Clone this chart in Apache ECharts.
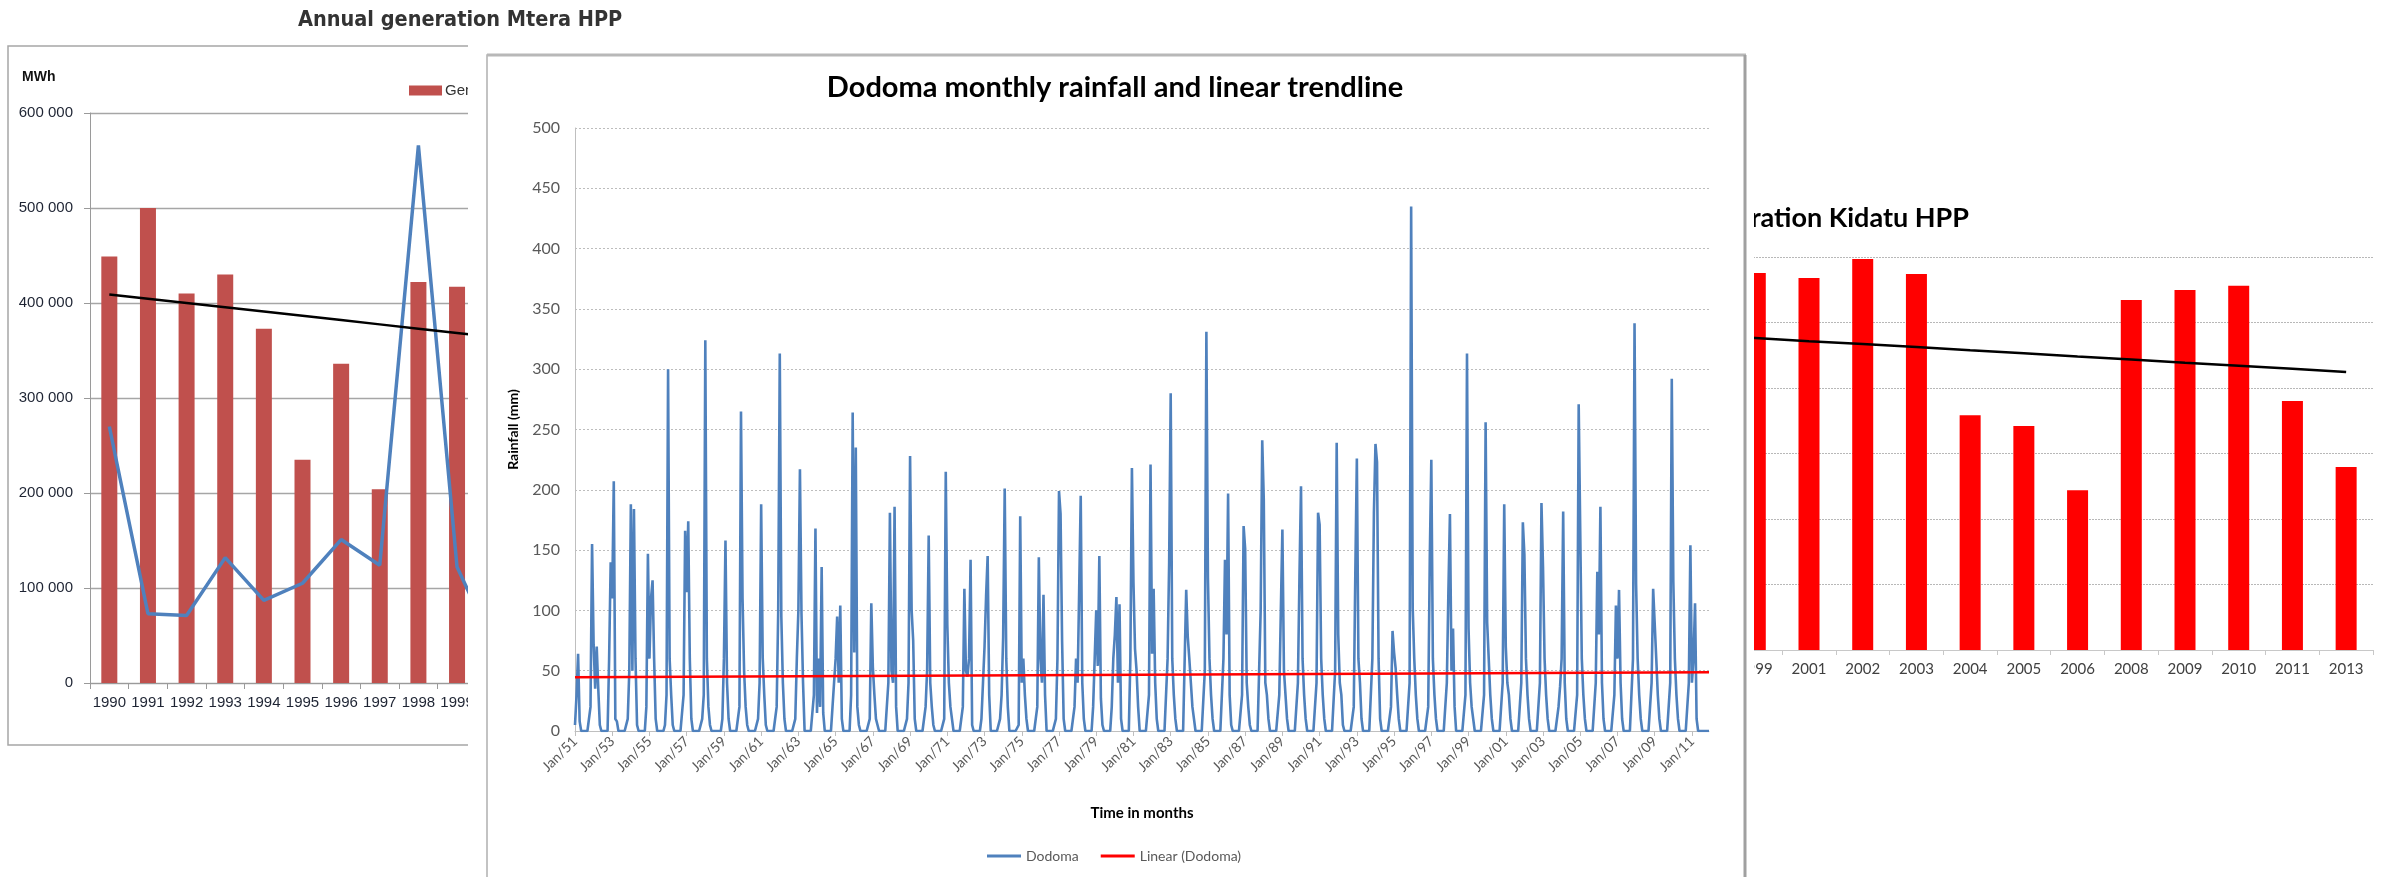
<!DOCTYPE html>
<html>
<head>
<meta charset="utf-8">
<script src="https://cdn.jsdelivr.net/npm/echarts@6/dist/echarts.min.js"></script>
<style>html,body{margin:0;padding:0;background:#fff}#c{width:2386px;height:877px}</style>
</head>
<body>
<div id="c"></div>
<script>
// ---------- Chart 1: Annual generation Mtera HPP ----------
const mteraYears = ['1990','1991','1992','1993','1994','1995','1996','1997','1998','1999','2000'];
const mteraGeneration = [449000, 500000, 410000, 430000, 373000, 235000, 336000, 204000, 422000, 417000, null];
const mteraBlueSeries = [270000, 73000, 71000, 132000, 87000, 105000, 151000, 124000, 566000, 122000, 35000];
const mteraTrend = [409000, 404500, 400000, 395500, 391000, 386500, 382000, 377500, 373000, 368500, 364000];

// ---------- Chart 2: Dodoma monthly rainfall ----------
const monthNames = ['Jan','Feb','Mar','Apr','May','Jun','Jul','Aug','Sep','Oct','Nov','Dec'];
const firstYear = 1951;
const rain1951to1960 = [
  [5, 30, 64, 8, 0, 0, 0, 0, 0, 0, 20, 155],
  [72, 35, 70, 35, 5, 0, 0, 0, 0, 0, 60, 140],
  [110, 207, 10, 8, 0, 0, 0, 0, 0, 0, 10, 50],
  [188, 50, 184, 60, 5, 0, 0, 0, 0, 0, 20, 147],
  [60, 110, 125, 60, 10, 0, 0, 0, 0, 0, 5, 30],
  [300, 60, 30, 5, 0, 0, 0, 0, 0, 0, 30, 166],
  [115, 174, 60, 10, 0, 0, 0, 0, 0, 0, 10, 30],
  [324, 60, 20, 5, 0, 0, 0, 0, 0, 0, 0, 10],
  [60, 158, 40, 10, 0, 0, 0, 0, 0, 0, 20, 265],
  [110, 50, 20, 5, 0, 0, 0, 0, 0, 0, 10, 40]
];
const rain1961to1970 = [
  [188, 61, 30, 5, 0, 0, 0, 0, 0, 0, 20, 100],
  [313, 95, 40, 10, 0, 0, 0, 0, 0, 0, 10, 60],
  [100, 217, 97, 40, 0, 0, 0, 0, 0, 0, 30, 168],
  [15, 60, 20, 136, 15, 0, 0, 0, 0, 0, 20, 40],
  [60, 95, 40, 104, 10, 0, 0, 0, 0, 0, 30, 264],
  [65, 235, 20, 5, 0, 0, 0, 0, 0, 0, 10, 106],
  [53, 30, 10, 5, 0, 0, 0, 0, 0, 0, 40, 181],
  [50, 40, 186, 20, 0, 0, 0, 0, 0, 0, 10, 40],
  [228, 100, 75, 10, 0, 0, 0, 0, 0, 0, 20, 51],
  [162, 40, 20, 5, 0, 0, 0, 0, 0, 0, 10, 215]
];
const rain1971to1980 = [
  [88, 40, 20, 10, 0, 0, 0, 0, 0, 0, 20, 118],
  [50, 45, 60, 142, 5, 0, 0, 0, 0, 0, 10, 40],
  [70, 112, 145, 30, 0, 0, 0, 0, 0, 0, 10, 30],
  [78, 201, 60, 20, 0, 0, 0, 0, 0, 0, 5, 178],
  [40, 60, 30, 10, 0, 0, 0, 0, 0, 0, 20, 144],
  [60, 40, 113, 30, 0, 0, 0, 0, 0, 0, 10, 60],
  [199, 180, 74, 10, 0, 0, 0, 0, 0, 0, 20, 60],
  [40, 117, 195, 40, 10, 0, 0, 0, 0, 0, 20, 60],
  [100, 54, 145, 27, 5, 0, 0, 0, 0, 0, 20, 60],
  [80, 111, 40, 105, 10, 0, 0, 0, 0, 0, 60, 218]
];
const rain1981to1990 = [
  [123, 68, 50, 20, 0, 0, 0, 0, 0, 0, 30, 221],
  [64, 118, 40, 10, 0, 0, 0, 0, 0, 0, 60, 140],
  [280, 60, 30, 10, 0, 0, 0, 0, 0, 0, 117, 78],
  [60, 40, 20, 10, 0, 0, 0, 0, 0, 0, 50, 331],
  [127, 60, 30, 10, 0, 0, 0, 0, 0, 0, 60, 142],
  [80, 197, 30, 5, 0, 0, 0, 0, 0, 0, 30, 170],
  [151, 40, 20, 5, 0, 0, 0, 0, 0, 0, 100, 241],
  [192, 40, 30, 10, 0, 0, 0, 0, 0, 0, 30, 100],
  [167, 50, 30, 10, 0, 0, 0, 0, 0, 0, 40, 128],
  [203, 60, 30, 10, 0, 0, 0, 0, 0, 0, 40, 181]
];
const rain1991to2000 = [
  [171, 60, 30, 10, 0, 0, 0, 0, 0, 0, 50, 239],
  [80, 40, 30, 5, 0, 0, 0, 0, 0, 0, 20, 130],
  [226, 60, 40, 10, 0, 0, 0, 0, 0, 0, 60, 181],
  [238, 223, 60, 10, 0, 0, 0, 0, 0, 0, 20, 83],
  [65, 52, 30, 10, 0, 0, 0, 0, 0, 0, 40, 435],
  [102, 60, 30, 10, 0, 0, 0, 0, 0, 0, 20, 142],
  [225, 60, 30, 10, 0, 0, 0, 0, 0, 0, 40, 115],
  [180, 50, 85, 20, 0, 0, 0, 0, 0, 0, 30, 313],
  [85, 40, 20, 10, 0, 0, 0, 0, 0, 0, 30, 256],
  [90, 60, 30, 10, 0, 0, 0, 0, 0, 0, 40, 188]
];
const rain2001to2011 = [
  [70, 40, 30, 10, 0, 0, 0, 0, 0, 0, 40, 173],
  [146, 60, 30, 10, 0, 0, 0, 0, 0, 0, 40, 189],
  [136, 60, 30, 10, 0, 0, 0, 0, 0, 0, 20, 37],
  [60, 182, 40, 10, 0, 0, 0, 0, 0, 0, 30, 271],
  [272, 60, 30, 10, 0, 0, 0, 0, 0, 0, 40, 132],
  [80, 186, 40, 10, 0, 0, 0, 0, 0, 0, 30, 104],
  [60, 117, 40, 10, 0, 0, 0, 0, 0, 0, 60, 338],
  [122, 60, 30, 10, 0, 0, 0, 0, 0, 0, 40, 118],
  [117, 60, 30, 10, 0, 0, 0, 0, 0, 0, 40, 292],
  [124, 60, 30, 10, 0, 0, 0, 0, 0, 0, 40, 154],
  [40, 60, 106, 10, 0, 0, 0, 0, 0, 0, 0, 0]
];
const rainTrendEnds = [44.6, 48.8];

// ---------- Chart 3: Annual generation Kidatu HPP ----------
const kidatuYears = ['1997','1998','1999','2001','2002','2003','2004','2005','2006','2008','2009','2010','2011','2013'];
const kidatuGeneration = [null, null, 1151000, 1136000, 1194000, 1148000, 717000, 684000, 488000, 1069000, 1099000, 1112000, 760000, 559000];
const kidatuTrend = [972000, 962000, 953000, 943000, 934000, 925000, 915000, 906000, 896000, 887000, 877000, 868000, 859000, 849000];

// ---------- build ----------
const rainRows = [].concat(rain1951to1960, rain1961to1970, rain1971to1980, rain1981to1990, rain1991to2000, rain2001to2011);
const rainLabels = [];
const rainValues = [];
rainRows.forEach((row, i) => {
  const yy = String((firstYear + i) % 100).padStart(2, '0');
  row.forEach((v, m) => { rainLabels.push(monthNames[m] + '/' + yy); rainValues.push(v); });
});
const lastIdx = rainValues.length - 1;
const rainTrend = rainValues.map(() => null);
rainTrend[0] = rainTrendEnds[0];
rainTrend[lastIdx] = rainTrendEnds[1];

const spaceThousands = v => String(v).replace(/\B(?=(\d{3})+(?!\d))/g, ' ');
const cond = "'DejaVu Sans Condensed','Liberation Sans Narrow',sans-serif";
const cal = "Lato,'Open Sans',sans-serif";

const chart = echarts.init(document.getElementById('c'), null, {renderer: 'canvas'});
chart.setOption({
  animation: false,
  backgroundColor: '#ffffff',
  grid: [
    {left: 90, top: 113, width: 425, height: 570, outerBoundsMode: 'none'},
    {left: 575, top: 128, width: 1134, height: 603, outerBoundsMode: 'none'},
    {left: 1621, top: 257, width: 752, height: 393, outerBoundsMode: 'none'}
  ],
  legend: [
    {
      z: 2, left: 404, top: 78, itemWidth: 33, itemHeight: 10, itemGap: 10,
      data: [{name: 'Generation', icon: 'rect'}],
      textStyle: {fontFamily: "'Liberation Sans',sans-serif", fontSize: 15, color: '#333', padding: [0,0,0,-2]}
    },
    {
      z: 12, left: 982, top: 844, itemWidth: 34, itemHeight: 3, itemGap: 22,
      data: [{name: 'Dodoma', icon: 'rect'}, {name: 'Linear (Dodoma)', icon: 'rect'}],
      textStyle: {fontFamily: cal, fontSize: 14, color: '#595959'}
    }
  ],
  xAxis: [
    {
      gridIndex: 0, type: 'category', data: mteraYears, boundaryGap: true, z: 1,
      axisLine: {show: true, lineStyle: {color: '#9a9a9a', width: 1}},
      axisTick: {show: true, interval: 0, length: 6, lineStyle: {color: '#9a9a9a'}},
      axisLabel: {interval: 0, margin: 12, fontFamily: "'Liberation Sans',sans-serif", fontSize: 15, color: '#1e2433'},
      splitLine: {show: false}
    },
    {
      gridIndex: 1, type: 'category', data: rainLabels, boundaryGap: false, z: 11,
      name: 'Time in months', nameLocation: 'middle', nameGap: 75,
      nameTextStyle: {fontFamily: cal, fontWeight: 'bold', fontSize: 15, color: '#000'},
      axisLine: {show: true, lineStyle: {color: '#bfbfbf', width: 1}},
      axisTick: {show: true, interval: (i) => i % 24 === 0, length: 5, lineStyle: {color: '#bfbfbf'}},
      axisLabel: {interval: (i) => i % 24 === 0, rotate: 45, margin: 8, fontFamily: cal, fontSize: 14, color: '#595959'},
      splitLine: {show: false}
    },
    {
      gridIndex: 2, type: 'category', data: kidatuYears, boundaryGap: true, z: 1,
      axisLine: {show: true, lineStyle: {color: '#c8c8c8', width: 1}},
      axisTick: {show: true, interval: 0, length: 5, lineStyle: {color: '#c8c8c8'}},
      axisLabel: {interval: 0, margin: 12, fontFamily: cal, fontSize: 15, color: '#404040'},
      splitLine: {show: false}
    }
  ],
  yAxis: [
    {
      gridIndex: 0, type: 'value', min: 0, max: 600000, interval: 100000, z: 1,
      axisLine: {show: true, lineStyle: {color: '#9a9a9a', width: 1}},
      axisTick: {show: true, length: 6, lineStyle: {color: '#9a9a9a'}},
      axisLabel: {margin: 17, formatter: spaceThousands, fontFamily: "'Liberation Sans',sans-serif", fontSize: 15, color: '#1e2433'},
      splitLine: {show: true, lineStyle: {color: '#a6a6a6', width: 1.3, type: 'solid'}}
    },
    {
      gridIndex: 1, type: 'value', min: 0, max: 500, interval: 50, z: 11,
      name: 'Rainfall (mm)', nameLocation: 'middle', nameGap: 55, nameRotate: 90,
      nameTextStyle: {fontFamily: cal, fontWeight: 'bold', fontSize: 14, color: '#000'},
      axisLine: {show: true, lineStyle: {color: '#bfbfbf', width: 1}},
      axisTick: {show: false},
      axisLabel: {margin: 15, fontFamily: cal, fontSize: 16, color: '#595959'},
      splitLine: {show: true, lineStyle: {color: '#bdbdbd', width: 1, type: [2, 2]}}
    },
    {
      gridIndex: 2, type: 'value', min: 0, max: 1200000, interval: 200000, z: 1,
      axisLine: {show: false}, axisTick: {show: false}, axisLabel: {show: false},
      splitLine: {show: true, lineStyle: {color: '#b8b8b8', width: 1, type: [2, 1]}}
    }
  ],
  series: [
    {name: 'Generation', type: 'bar', xAxisIndex: 0, yAxisIndex: 0, z: 2, barWidth: 16,
     data: mteraGeneration, itemStyle: {color: '#C0504D'}},
    {name: 'Series 2', type: 'line', xAxisIndex: 0, yAxisIndex: 0, z: 3, data: mteraBlueSeries,
     symbol: 'none', lineStyle: {color: '#4F81BD', width: 3.5}, itemStyle: {color: '#4F81BD'}},
    {name: 'Trend Mtera', type: 'line', xAxisIndex: 0, yAxisIndex: 0, z: 3, data: mteraTrend,
     symbol: 'none', lineStyle: {color: '#000', width: 2.5}},

    {name: 'Kidatu', type: 'bar', xAxisIndex: 2, yAxisIndex: 2, z: 2, barWidth: 21,
     data: kidatuGeneration, itemStyle: {color: '#FF0000'}},
    {name: 'Trend Kidatu', type: 'line', xAxisIndex: 2, yAxisIndex: 2, z: 3, data: kidatuTrend,
     symbol: 'none', lineStyle: {color: '#000', width: 2.5}},

    {name: 'Dodoma', type: 'line', xAxisIndex: 1, yAxisIndex: 1, z: 12, data: rainValues,
     symbol: 'none', lineStyle: {color: '#4F81BD', width: 2.6}, itemStyle: {color: '#4F81BD'}},
    {name: 'Linear (Dodoma)', type: 'line', xAxisIndex: 1, yAxisIndex: 1, z: 13, data: rainTrend,
     connectNulls: true, symbol: 'none', lineStyle: {color: '#FF0000', width: 2.5}, itemStyle: {color: '#FF0000'}}
  ],
  graphic: [
    // chart 1 frame and texts
    {type: 'rect', z: 1, shape: {x: 8, y: 46, width: 600, height: 699}, style: {fill: 'none', stroke: '#a6a6a6', lineWidth: 1.5}},
    {type: 'text', z: 14, x: 298, y: 20, style: {text: 'Annual generation Mtera HPP', font: "bold 21.5px " + cond, fill: '#333', textVerticalAlign: 'middle'}},
    {type: 'text', z: 1, x: 22, y: 77, style: {text: 'MWh', font: "bold 14px 'Liberation Sans',sans-serif", fill: '#111', textVerticalAlign: 'middle'}},
    // chart 3 title
    {type: 'text', z: 1, x: 1969, y: 218, style: {text: 'Annual generation Kidatu HPP', font: "bold 27px " + cal, fill: '#000', textAlign: 'right', textVerticalAlign: 'middle'}},
    // chart 2 paper
    {type: 'rect', z: 10, shape: {x: 468, y: 38, width: 1286, height: 850}, style: {fill: '#ffffff'}},
    {type: 'rect', z: 10, shape: {x: 487, y: 55, width: 1258, height: 850}, style: {fill: 'none', stroke: '#b0b0b0', lineWidth: 1.5}},
    {type: 'line', z: 10, shape: {x1: 487, y1: 55, x2: 1746, y2: 55}, style: {stroke: '#b8b8b8', lineWidth: 3}},
    {type: 'line', z: 10, shape: {x1: 1745, y1: 55, x2: 1745, y2: 877}, style: {stroke: '#a0a0a0', lineWidth: 3}},
    {type: 'text', z: 14, x: 1115, y: 88, style: {text: 'Dodoma monthly rainfall and linear trendline', font: "bold 29px " + cal, fill: '#000', textAlign: 'center', textVerticalAlign: 'middle'}}
  ]
});
</script>
</body>
</html>
